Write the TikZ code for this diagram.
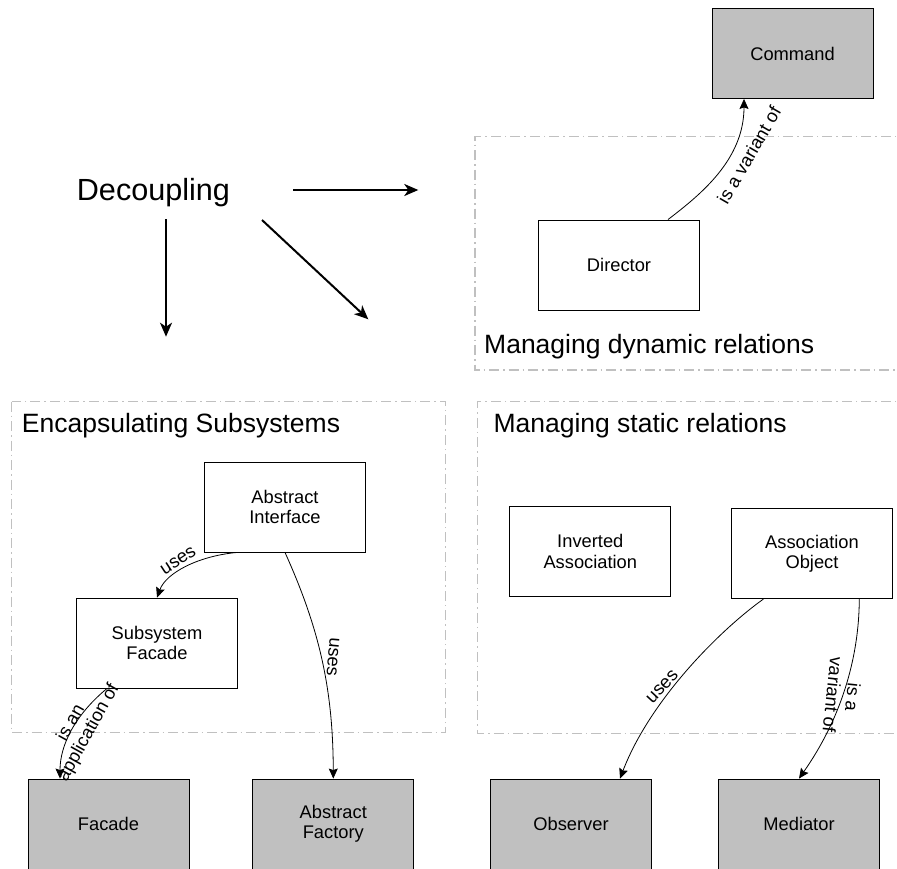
\documentclass[tikz,border=0pt]{standalone}
\usepackage{fontspec}
\setmainfont{Liberation Sans}
\usetikzlibrary{arrows.meta}
\definecolor{boxgray}{RGB}{192,192,192}
\definecolor{groupgray}{RGB}{192,192,192}
\begin{document}
\begin{tikzpicture}[x=1pt,y=-1pt,
  nodebox/.style={draw=black, line width=0.9pt, minimum width=161pt, minimum height=90pt, inner sep=0pt, align=center, font=\fontsize{18.3}{20.5}\selectfont},
  graybox/.style={nodebox, fill=boxgray},
  whitebox/.style={nodebox, fill=white},
  grpbox/.style={draw=groupgray, line width=1.4pt, dash pattern=on 10pt off 4pt on 1.5pt off 4pt},
  gtitle/.style={anchor=base west, inner sep=0pt, font=\fontsize{26.5}{30}\selectfont},
  relarrow/.style={line width=0.8pt, -{Stealth[length=10pt,width=9pt,inset=1.5pt]}},
  bigarrow/.style={line width=2pt, -{Stealth[length=14pt,width=12pt,inset=4pt]}},
  elabel/.style={inner sep=0pt, align=center, font=\fontsize{18.3}{20}\selectfont},
]
\useasboundingbox (0,0) rectangle (897,868);

% groups
\draw[grpbox] (910,136.7) -- (475,136.7) -- (475,370) -- (910,370);
\draw[grpbox] (11.7,401.7) rectangle (445.7,732.7);
\draw[grpbox] (910,401.7) -- (477.7,401.7) -- (477.7,733.3) -- (910,733.3);

\node[gtitle] (tdyn) at (484,353) {Managing dynamic relations};
\node[gtitle] (tenc) at (21.7,432.7) {Encapsulating Subsystems};
\node[gtitle] (tsta) at (493.3,432.7) {Managing static relations};

% Decoupling
\node[anchor=base west, inner sep=0pt, font=\fontsize{30.6}{34}\selectfont] (dec) at (76.7,200) {Decoupling};
\coordinate (d1s) at (293.3,190);
\coordinate (d1e) at (418.3,190);
\coordinate (d2s) at (166,219.3);
\coordinate (d2e) at (166,336.7);
\coordinate (d3s) at (262,220);
\coordinate (d3e) at (368.3,319.3);
\draw[bigarrow] (d1s) -- (d1e);
\draw[bigarrow] (d2s) -- (d2e);
\draw[bigarrow] (d3s) -- (d3e);

% nodes
\node[graybox] (command) at (792.5,53.5) {Command};
\node[whitebox] (director) at (619,265) {Director};
\node[whitebox] (absint) at (285,507) {Abstract\\Interface};
\node[whitebox] (subfac) at (157,643) {Subsystem\\Facade};
\node[graybox] (facade) at (108.5,824) {Facade};
\node[graybox] (absfac) at (333.3,824) {Abstract\\Factory};
\node[whitebox] (invassoc) at (590.3,551.5) {Inverted\\Association};
\node[whitebox] (assocobj) at (812,553.7) {Association\\Object};
\node[graybox] (observer) at (571,824) {Observer};
\node[graybox] (mediator) at (799,824) {Mediator};

% connectors
\draw[relarrow] ([xshift=49pt]director.north) .. controls (700,195) and (744,160) .. ([xshift=-48.5pt]command.south);
\draw[relarrow] ([xshift=-48pt]absint.south) .. controls (198,556) and (166,573) .. (subfac.north);
\draw[relarrow] (absint.south) .. controls (320,630) and (333,690) .. (absfac.north);
\draw[relarrow] ([xshift=-50pt]subfac.south) .. controls (75,715) and (60,745) .. ([xshift=-48.5pt]facade.north);
\draw[relarrow] ([xshift=-48.7pt]assocobj.south) .. controls (720,630) and (650,700) .. ([xshift=49pt]observer.north);
\draw[relarrow] ([xshift=47.3pt]assocobj.south) .. controls (859,660) and (840,720) .. (mediator.north);

% labels
\node[elabel, rotate=60] (l1) at (749,155) {is a variant of};
\node[elabel, rotate=33] (l2) at (178.3,560.7) {uses};
\node[elabel, rotate=-95] (l3) at (333,656.7) {uses};
\node[elabel, rotate=61] (l4) at (80,728) {is an\\application of};
\node[elabel, rotate=47] (l5) at (662.3,686.7) {uses};
\node[elabel, rotate=-96] (l6) at (843,696) {is a\\variant of};
\end{tikzpicture}
\end{document}
